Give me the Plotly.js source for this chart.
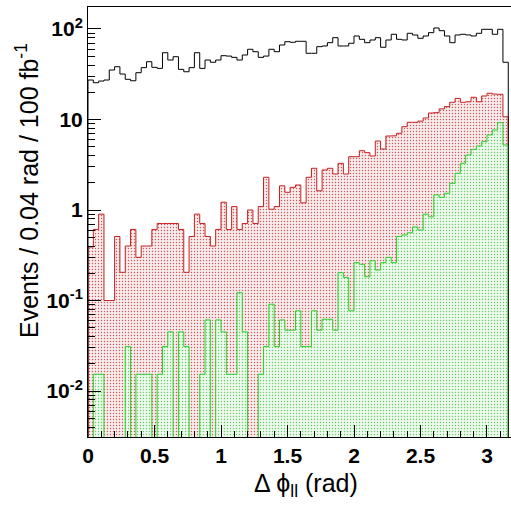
<!DOCTYPE html>
<html>
<head>
<meta charset="utf-8">
<script src="https://cdn.plot.ly/plotly-3.0.1.min.js"></script>
<style>html,body{margin:0;padding:0;background:#fff;}#chart{width:511px;height:506px;}</style>
</head>
<body>
<div id="chart"></div>
<script>
// Bin settings: 0.04 rad bins starting at 0
const binStart = 0;
const binWidth = 0.04;

// Total (black outline)
const totalEvents = [
 27.3,25.5,26.6,27.3,35.2,38.3,31.8,27.8,26.8,32.9,
 37.4,43.5,37.7,36.7,54.7,45.4,49.4,35.8,33.7,37.4,
 54.7,36.7,45.4,42.9,45.4,50.7,50.2,48.6,45.4,51.6,
 59.7,56.1,48.6,50.2,59.7,56.1,66.6,72.4,71.3,73.1,
 73.1,53.9,53.9,63.8,64.9,70.6,80.2,64.9,64.9,69.5,
 83.7,76.9,70.6,75.6,80.2,62.8,75.6,87.4,76.9,75.6,
 89.6,85.9,78.9,83.7,91.1,102.6,95.8,83.7,70.6,85.9,
 87.4,85.9,83.7,89.6,99.2,99.2,87.4,99.2,42.9
];

// Red component
const redEvents = [
 0.39,0.61,0.90,0.10,0.10,0.51,0.205,0.40,0.61,0.30,
 0.40,0.40,0.61,0.71,0.71,0.71,0.71,0.61,0.205,0.51,
 0.90,0.71,0.51,0.40,0.61,1.22,0.61,1.09,0.61,0.71,
 1.00,0.71,1.09,2.30,1.02,1.09,1.85,1.57,1.78,1.89,
 1.20,2.30,2.89,1.63,2.77,2.89,2.50,3.28,2.50,3.88,
 3.88,4.52,4.30,3.95,5.78,4.72,6.57,6.60,7.04,8.33,
 9.31,9.31,9.60,10.4,11.8,11.9,13.1,13.9,15.5,17.1,
 15.5,15.7,17.6,15.7,18.2,19.5,19.1,19.0,10.7
];

// Green component
const greenEvents = [
 0,0.0153,0.0153,0,0,0,0,0.031,0,0.0153,
 0.0153,0.0153,0,0.0153,0.031,0.045,0,0.045,0.031,0,
 0,0.0153,0.061,0,0.061,0.045,0.0153,0.0153,0.122,0.045,
 0,0,0.0153,0.031,0.091,0.031,0.061,0.047,0.047,0.077,
 0.031,0.031,0.077,0.047,0.062,0.062,0.047,0.203,0.180,0.077,
 0.262,0.251,0.183,0.275,0.217,0.262,0.30,0.262,0.51,0.53,
 0.56,0.65,0.60,0.90,0.84,1.47,1.38,1.53,1.97,2.54,
 3.28,4.05,4.68,5.10,5.69,6.75,7.66,9.22,5.23
];

const xTickVals = [0,0.5,1,1.5,2,2.5,3];
const xTickText = ['0','0.5','1','1.5','2','2.5','3'];
const yTickVals = [0.01,0.1,1,10,100];
const yTickText = ['10<sup>-2</sup>','10<sup>-1</sup>','1','10','10<sup>2</sup>'];

// floor used to draw histogram outlines down to below the axis on log scale
const FLOOR = 1e-4;

function stepXY(vals){
  const n = vals.length;
  const xs = [binStart], ys = [FLOOR];
  for (let i = 0; i < n; i++){
    xs.push(binStart + i*binWidth);
    ys.push(vals[i] > 0 ? vals[i] : FLOOR);
  }
  xs.push(binStart + n*binWidth); ys.push(vals[n-1] > 0 ? vals[n-1] : FLOOR);
  xs.push(binStart + n*binWidth); ys.push(FLOOR);
  return {x: xs, y: ys};
}

const r = stepXY(redEvents), g = stepXY(greenEvents), b = stepXY(totalEvents);

const minorY = [];
for (let e = -3; e <= 2; e++) for (let m = 2; m <= 9; m++) minorY.push(m*Math.pow(10,e));

const traces = [
  {x: r.x, y: r.y, type:'scatter', mode:'lines', line:{shape:'hv', color:'#c81e1e', width:1},
   fill:'tozeroy', fillcolor:'rgba(0,0,0,0)',
   fillpattern:{shape:'.', fgcolor:'#cc5a5a', bgcolor:'#f9ecec', size:3, solidity:0.18},
   hoverinfo:'skip'},
  {x: g.x, y: g.y, type:'scatter', mode:'lines', line:{shape:'hv', color:'#28d228', width:1},
   fill:'tozeroy', fillcolor:'rgba(0,0,0,0)',
   fillpattern:{shape:'.', fgcolor:'#66cc66', bgcolor:'#eefaee', size:3, solidity:0.18},
   hoverinfo:'skip'},
  {x: b.x, y: b.y, type:'scatter', mode:'lines', line:{shape:'hv', color:'#000000', width:1},
   hoverinfo:'skip'}
];

const layout = {
  width: 511, height: 506,
  margin: {l:88, r:0, t:7, b:69, pad:0},
  paper_bgcolor:'#ffffff', plot_bgcolor:'#ffffff',
  showlegend:false,
  xaxis: {
    range:[0, 3.1805], showgrid:false, zeroline:false,
    showline:true, linecolor:'#000', linewidth:1, mirror:true,
    ticks:'inside', ticklen:12, tickcolor:'#000', tickwidth:1,
    tickmode:'array', tickvals:xTickVals, ticktext:xTickText,
    minor:{ticks:'inside', ticklen:6, tickcolor:'#000', dtick:0.1, tick0:0},
    tickfont:{family:'Liberation Sans, Arial, sans-serif', size:21, weight:'bold', color:'#000'}
  },
  yaxis: {
    type:'log', range:[-2.508, 2.243], showgrid:false, zeroline:false,
    showline:true, linecolor:'#000', linewidth:1, mirror:false,
    ticks:'inside', ticklen:13, tickcolor:'#000', tickwidth:1,
    tickmode:'array', tickvals:yTickVals, ticktext:yTickText,
    minor:{ticks:'inside', ticklen:7, tickcolor:'#000', tickmode:'array', tickvals:minorY},
    tickfont:{family:'Liberation Sans, Arial, sans-serif', size:21, weight:'bold', color:'#000'}
  },
  annotations: [
    {text:'Events / 0.04 rad / 100 fb<sup>-1</sup>', xref:'paper', yref:'paper',
     x:0, y:0, xanchor:'center', yanchor:'middle', textangle:-90, showarrow:false,
     font:{family:'Liberation Sans, Arial, sans-serif', size:25, color:'#000'}},
    {text:'\u0394 \u03d5<sub>ll</sub> (rad)', xref:'paper', yref:'paper',
     x:0, y:0, xanchor:'center', yanchor:'middle', showarrow:false,
     font:{family:'Liberation Sans, Arial, sans-serif', size:25, color:'#000'}}
  ]
};
// x title centred at pixel (306, 485)
layout.annotations[1].x = (306-88)/423;
layout.annotations[1].y = -(485-437)/430;
// y title centred at pixel (27, 191)
layout.annotations[0].x = (27-88)/423;
layout.annotations[0].y = (437-191)/430;

Plotly.newPlot('chart', traces, layout, {displayModeBar:false, staticPlot:true});
</script>
</body>
</html>
